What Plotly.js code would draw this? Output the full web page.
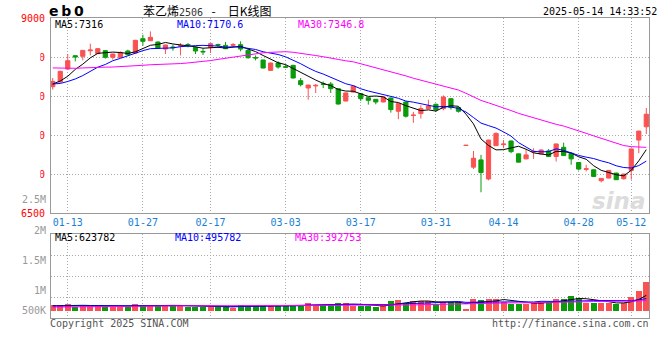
<!DOCTYPE html>
<html>
<head>
<meta charset="utf-8">
<script src="https://cdn.plot.ly/plotly-3.0.1.min.js"></script>
<style>
html,body{margin:0;padding:0;background:#fff;}
#chart{width:660px;height:360px;}
</style>
</head>
<body>
<div id="chart"></div>
<script>
// ---------------- data ----------------
const dates = [
  "01-09","01-10","01-13","01-14","01-15","01-16","01-17","01-20","01-21","01-22","01-23","01-24","01-27",
  "02-05","02-06","02-07","02-10","02-11","02-12","02-13","02-14","02-17","02-18","02-19","02-20","02-21","02-24","02-25","02-26","02-27","02-28",
  "03-03","03-04","03-05","03-06","03-07","03-10","03-11","03-12","03-13","03-14","03-17","03-18","03-19","03-20","03-21","03-24","03-25","03-26","03-27","03-28","03-31",
  "04-01","04-02","04-03","04-07","04-08","04-09","04-10","04-11","04-14","04-15","04-16","04-17","04-18","04-21","04-22","04-23","04-24","04-25","04-28","04-29","04-30",
  "05-06","05-07","05-08","05-09","05-12","05-13","05-14"
];
const openPx = [
  8120,8180,8346,8517,8509,8580,8543,8581,8496,8496,8577,8551,8735,
  8709,8692,8602,8628,8640,8660,8624,8572,8624,8660,8649,8652,8658,8585,8494,8462,8329,8423,
  8376,8393,8197,8103,8130,8157,8154,8094,7936,8051,8030,7979,7958,7924,7975,7805,7924,7750,7775,7839,7894,
  7839,7966,7852,7366,7089,7182,6937,7364,7377,7424,7259,7195,7284,7259,7297,7225,7343,7267,7148,7060,7055,
  6915,6949,7013,6941,7047,7436,7606
];
const highPx = [
  8231,8325,8538,8520,8590,8671,8615,8590,8545,8573,8594,8720,8786,
  8829,8700,8660,8658,8679,8679,8637,8607,8679,8671,8692,8679,8701,8615,8521,8466,8428,8444,
  8402,8400,8231,8145,8154,8188,8180,8100,8045,8131,8034,7983,7962,7992,7980,7908,7930,7797,7881,7953,7903,
  8008,7970,7860,7369,7297,7246,7440,7534,7436,7430,7263,7322,7331,7314,7322,7390,7403,7271,7152,7119,7060,
  6950,7052,7018,7005,7326,7555,7847
];
const lowPx = [
  8082,8171,8340,8444,8457,8521,8538,8479,8466,8490,8525,8545,8645,
  8705,8605,8538,8581,8521,8624,8538,8526,8551,8615,8600,8624,8573,8479,8457,8355,8325,8351,
  8359,8225,8124,7953,8039,8103,8039,7889,7932,8045,7936,7890,7894,7920,7788,7703,7725,7657,7712,7835,7797,
  7818,7826,7788,7366,7064,6767,6920,7360,7331,7267,7150,7190,7195,7255,7220,7161,7233,7119,7047,7034,6965,
  6894,6945,6924,6928,6928,7267,7513
];
const closePx = [
  8188,8316,8453,8500,8585,8590,8607,8496,8538,8556,8530,8714,8701,
  8752,8611,8654,8620,8647,8654,8577,8566,8671,8654,8607,8658,8602,8491,8488,8359,8423,8372,
  8370,8231,8146,8141,8137,8150,8094,7898,8040,8127,7966,7945,7924,7987,7826,7903,7742,7756,7839,7873,7826,
  7987,7852,7805,7369,7203,7021,7436,7521,7385,7288,7153,7246,7290,7309,7225,7386,7237,7195,7064,7068,6970,
  6945,7047,6928,7000,7322,7551,7767
];
const volume = [
  244000,244000,285000,149000,176000,203000,203000,203000,149000,203000,149000,285000,244000,
  203000,231000,231000,176000,231000,149000,149000,149000,149000,149000,203000,122000,244000,203000,203000,203000,203000,203000,
  203000,244000,203000,326000,244000,244000,244000,326000,326000,203000,203000,176000,149000,231000,407000,448000,326000,407000,380000,407000,285000,
  366000,339000,366000,81000,488000,448000,488000,488000,366000,285000,285000,285000,326000,366000,366000,488000,488000,610000,529000,326000,326000,
  326000,326000,285000,326000,570000,787000,1153000
];
// closes / volumes before the window, estimated from where the moving averages start
const priorCloses = [
  8420,8480,8510,8450,8400,8470,8520,8490,8430,8460,8500,8440,
  8550,8530,8500,8540,8500,
  8420,8350,8300,8250,8200,8180,8150,
  8000,8120,8150,8060,8250
];
const priorVolumes = [
  120000,135000,110000,140000,125000,130000,115000,145000,120000,135000,
  128000,132000,118000,140000,126000,130000,122000,138000,125000,136000,
  170000,190000,175000,200000,180000,195000,170000,185000,190000
];
const tickLabels = ["01-13","01-27","02-17","03-03","03-17","03-31","04-14","04-28","05-12"];
const priceTicks = [6500,7000,7500,8000,8500,9000];
const priceLegend = ["MA5:7316","MA10:7170.6","MA30:7346.8"];
const volLegend = ["MA5:623782","MA10:495782","MA30:392753"];
const volAxisLabels = ["2.5M","2M","1.5M","1M","500K"];

// ---------------- styling / layout helpers ----------------
const UP = '#fa5252', DOWN = '#0a9b0a';
const MA_COLORS = ['#000000','#0000ff','#ff00ff'];
const MONO = 'DejaVu Sans Mono';
const GRID = '#aaaaaa';
const PL = 51, PR = 649, PT = 18, PB = 318.3;
const MAIN_BOTTOM = 213.3, VOL_TOP = 234.7, VOL_BASE = 311, VOL_PER_PX = 40690;
const fx = x => (x - PL) / (PR - PL);
const fy = y => (PB - y) / (PB - PT);

const idx = dates.map((d, i) => i);
const tickIdx = tickLabels.map(l => dates.indexOf(l));

function movingAvg(prior, vals, n) {
  const all = prior.concat(vals);
  const off = prior.length;
  return vals.map((v, i) => {
    let s = 0;
    for (let k = off + i - n + 1; k <= off + i; k++) s += all[k];
    return s / n;
  });
}
const periods = [5, 10, 30];
const priceMA = periods.map(n => movingAvg(priorCloses, closePx, n));
const volMA = periods.map(n => movingAvg(priorVolumes, volume, n));
const volColors = closePx.map((c, i) => c >= openPx[i] ? UP : DOWN);

const traces = [];
traces.push({
  type: 'candlestick', x: idx, open: openPx, high: highPx, low: lowPx, close: closePx,
  xaxis: 'x', yaxis: 'y', whiskerwidth: 0, hoverinfo: 'skip',
  increasing: {line: {color: UP, width: 1}, fillcolor: UP},
  decreasing: {line: {color: DOWN, width: 1}, fillcolor: DOWN}
});
priceMA.forEach((m, k) => traces.push({
  type: 'scatter', mode: 'lines', x: idx, y: m, xaxis: 'x', yaxis: 'y',
  line: {color: MA_COLORS[k], width: 1}, hoverinfo: 'skip'
}));
traces.push({
  type: 'bar', x: idx, y: volume, width: 0.8, xaxis: 'x2', yaxis: 'y2',
  marker: {color: volColors, line: {width: 0}}, hoverinfo: 'skip'
});
volMA.forEach((m, k) => traces.push({
  type: 'scatter', mode: 'lines', x: idx, y: m, xaxis: 'x2', yaxis: 'y2',
  line: {color: MA_COLORS[k], width: 1}, hoverinfo: 'skip'
}));

const xRange = [-0.23, 79.36];
const volRange = [-(PB - VOL_BASE) * VOL_PER_PX, (VOL_BASE - VOL_TOP) * VOL_PER_PX];
const volGrid = [0.25, 0.5, 0.75].map(f => volRange[0] + (volRange[1] - volRange[0]) * f);

const axBase = {
  showline: true, linecolor: '#999999', linewidth: 1, mirror: true,
  showgrid: true, gridcolor: GRID, griddash: '1px,2px', gridwidth: 1,
  zeroline: false, ticks: '', fixedrange: true
};

const ann = [];
function txt(text, x, y, color, opts) {
  ann.push(Object.assign({
    text: text, xref: 'paper', yref: 'paper', x: fx(x), y: fy(y),
    xanchor: 'left', yanchor: 'middle', showarrow: false,
    borderpad: 0, borderwidth: 0,
    font: {family: MONO, size: 10, color: color}
  }, opts || {}));
}
// header
txt('<b>e\u2009b\u20090</b>', 48.5, 10.5, '#000', {font: {family: 'DejaVu Sans', size: 14, color: '#000'}});
txt('苯乙烯<span style="font-family:DejaVu Sans Mono;font-size:10px;color:#333">2506</span>\u2002\u2009-\u2003日K线图', 142.5, 10.5, '#000',
    {font: {family: 'Noto Sans CJK SC', size: 12, color: '#000'}});
txt('2025-05-14 14:33:52', 656.6, 11.5, '#000', {xanchor: 'right'});
// legends
[55.3, 176.6, 298].forEach((x, k) => txt(priceLegend[k], x, 24.5, MA_COLORS[k]));
[55, 175, 295].forEach((x, k) => txt(volLegend[k], x, 238, MA_COLORS[k]));
// volume axis labels
[200, 230.5, 260.7, 290.3, 310.3].forEach((y, k) => txt(volAxisLabels[k], 46.3, y, '#999', {xanchor: 'right'}));
// footer
txt('Copyright 2025 SINA.COM', 50, 323.5, '#555');
txt('http://finance.sina.com.cn', 649, 323.5, '#555', {xanchor: 'right'});
// watermark
txt('<b><i>sina</i></b>', 592, 201, '#dddddd', {font: {family: 'DejaVu Sans', size: 23, color: '#dcdcdc'}});

const layout = {
  width: 660, height: 360,
  margin: {l: PL, r: 660 - PR, t: PT, b: 360 - PB, pad: 0},
  paper_bgcolor: '#fff', plot_bgcolor: '#fff',
  showlegend: false, boxgap: 0.2, bargap: 0,
  xaxis: Object.assign({}, axBase, {
    anchor: 'y', domain: [0, 1], range: xRange,
    tickmode: 'array', tickvals: tickIdx, ticktext: tickLabels,
    tickfont: {family: MONO, size: 10, color: '#1a7fd4'},
    rangeslider: {visible: false}
  }),
  yaxis: Object.assign({}, axBase, {
    anchor: 'x', domain: [fy(MAIN_BOTTOM), 1], range: [6500, 9000],
    tickmode: 'array', tickvals: priceTicks, ticklabelstandoff: 3,
    tickfont: {family: MONO, size: 10, color: '#ff0000'}
  }),
  xaxis2: Object.assign({}, axBase, {
    anchor: 'y2', domain: [0, 1], range: xRange,
    tickmode: 'array', tickvals: tickIdx, showticklabels: false
  }),
  yaxis2: Object.assign({}, axBase, {
    anchor: 'x2', domain: [0, fy(VOL_TOP)], range: volRange,
    tickmode: 'array', tickvals: volGrid, showticklabels: false
  }),
  annotations: ann,
  shapes: [{
    type: 'rect', xref: 'paper', yref: 'paper', layer: 'above',
    x0: fx(0), x1: fx(40.3), y0: fy(195.5), y1: fy(24),
    fillcolor: '#ffffff', line: {width: 0}
  }]
};

Plotly.newPlot('chart', traces, layout, {displayModeBar: false, staticPlot: true});
</script>
</body>
</html>
